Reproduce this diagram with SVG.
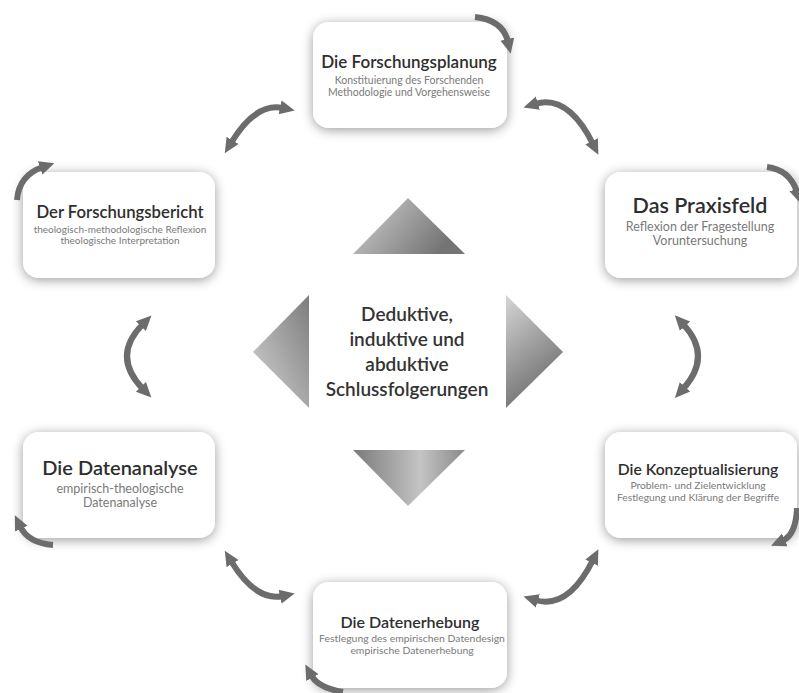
<svg xmlns="http://www.w3.org/2000/svg" width="799" height="693" viewBox="0 0 799 693">
<defs>
<style>
.box{fill:#ffffff;filter:url(#sh)}
.t{font-family:Lato,"Open Sans","DejaVu Sans",sans-serif;text-anchor:middle;fill:#2e2e2e;font-weight:600}
.s{font-family:Lato,"Open Sans","DejaVu Sans",sans-serif;text-anchor:middle;fill:#7a7a7a}
.c{font-family:Lato,"Open Sans","DejaVu Sans",sans-serif;text-anchor:middle;fill:#333;font-weight:600;font-size:19px}
.arr{fill:none;stroke:#6c6c6c;stroke-width:6}
</style>
<filter id="sh" x="-20%" y="-20%" width="140%" height="140%">
<feGaussianBlur in="SourceAlpha" stdDeviation="6"/>
<feOffset dx="0" dy="2"/>
<feComponentTransfer><feFuncA type="linear" slope="0.4"/></feComponentTransfer>
<feMerge><feMergeNode/><feMergeNode in="SourceGraphic"/></feMerge>
</filter>
<marker id="ah" markerUnits="userSpaceOnUse" markerWidth="16" markerHeight="16" refX="3" refY="8" orient="auto-start-reverse" viewBox="0 0 16 16">
<path d="M0,1 L15,8 L0,15 z" fill="#6c6c6c"/>
</marker>
<linearGradient id="gTop" x1="0" y1="0" x2="1" y2="0.4"><stop offset="0" stop-color="#d2d2d2"/><stop offset="1" stop-color="#747474"/></linearGradient>
<linearGradient id="gBot" x1="0" y1="0" x2="1" y2="0"><stop offset="0" stop-color="#7a7a7a"/><stop offset="0.6" stop-color="#c4c4c4"/><stop offset="1" stop-color="#8a8a8a"/></linearGradient>
<linearGradient id="gL" x1="1" y1="0" x2="0" y2="1"><stop offset="0" stop-color="#7c7c7c"/><stop offset="1" stop-color="#d4d4d4"/></linearGradient>
<linearGradient id="gR" x1="0" y1="0" x2="0.4" y2="1"><stop offset="0" stop-color="#d6d6d6"/><stop offset="1" stop-color="#6e6e6e"/></linearGradient>
</defs>
<rect width="799" height="693" fill="#ffffff"/>

<g id="center">
<polygon points="408,198 465,254 353,254" fill="url(#gTop)"/>
<polygon points="353,450 465,450 408,506" fill="url(#gBot)"/>
<polygon points="253,352 309,295 309,408" fill="url(#gL)"/>
<polygon points="563,352 506,295 506,408" fill="url(#gR)"/>
<text class="c" x="407" y="321">Deduktive,</text>
<text class="c" x="407" y="346">induktive und</text>
<text class="c" x="407" y="371">abduktive</text>
<text class="c" x="407" y="396">Schlussfolgerungen</text>
</g>

<g id="n-forschungsplanung">
<rect class="box" x="313" y="22" width="194" height="106" rx="16"/>
<text class="t" x="409" y="68" font-size="17">Die Forschungsplanung</text>
<text class="s" x="409" y="84" font-size="10.5">Konstituierung des Forschenden</text>
<text class="s" x="409" y="96" font-size="10.5">Methodologie und Vorgehensweise</text>
</g>

<g id="n-praxisfeld">
<rect class="box" x="605" y="172" width="192" height="106" rx="16"/>
<text class="t" x="700" y="213" font-size="21.5">Das Praxisfeld</text>
<text class="s" x="700" y="231" font-size="12.5">Reflexion der Fragestellung</text>
<text class="s" x="700" y="245" font-size="12.5">Voruntersuchung</text>
</g>

<g id="n-forschungsbericht">
<rect class="box" x="23" y="172" width="192" height="106" rx="16"/>
<text class="t" x="120" y="218" font-size="16.7">Der Forschungsbericht</text>
<text class="s" x="120" y="233" font-size="10">theologisch-methodologische Reflexion</text>
<text class="s" x="120" y="244" font-size="10">theologische Interpretation</text>
</g>

<g id="n-konzeptualisierung">
<rect class="box" x="605" y="432" width="192" height="106" rx="16"/>
<text class="t" x="698" y="475" font-size="15.7">Die Konzeptualisierung</text>
<text class="s" x="698" y="489" font-size="10.3">Problem- und Zielentwicklung</text>
<text class="s" x="698" y="501" font-size="10.3">Festlegung und Klärung der Begriffe</text>
</g>

<g id="n-datenanalyse">
<rect class="box" x="23" y="432" width="192" height="106" rx="16"/>
<text class="t" x="120" y="475" font-size="20">Die Datenanalyse</text>
<text class="s" x="120" y="493" font-size="12.5">empirisch-theologische</text>
<text class="s" x="120" y="507" font-size="12.5">Datenanalyse</text>
</g>

<g id="n-datenerhebung">
<rect class="box" x="313" y="582" width="194" height="106" rx="16"/>
<text class="t" x="410" y="628" font-size="16">Die Datenerhebung</text>
<text class="s" x="412" y="642" font-size="10.4">Festlegung des empirischen Datendesign</text>
<text class="s" x="412" y="654" font-size="10.4">empirische Datenerhebung</text>
</g>

<g id="connectors">
<path class="arr" d="M231,143 Q256,102 283,108" marker-start="url(#ah)" marker-end="url(#ah)"/>
<path class="arr" d="M535,104 Q568,94 593,144" marker-start="url(#ah)" marker-end="url(#ah)"/>
<path class="arr" d="M143,324 Q111,356 143,389" marker-start="url(#ah)" marker-end="url(#ah)"/>
<path class="arr" d="M683,324 Q713,356 683,389" marker-start="url(#ah)" marker-end="url(#ah)"/>
<path class="arr" d="M231,561 Q256,602 283,596" marker-start="url(#ah)" marker-end="url(#ah)"/>
<path class="arr" d="M535,600 Q568,610 593,560" marker-start="url(#ah)" marker-end="url(#ah)"/>
<path class="arr" d="M475,17 Q503,20 508,42" marker-end="url(#ah)"/>
<path class="arr" d="M767,167 Q790,170 797,192" marker-end="url(#ah)"/>
<path class="arr" d="M797,508 Q796,535 782,541" marker-end="url(#ah)"/>
<path class="arr" d="M343,692 Q318,688 311,675" marker-end="url(#ah)"/>
<path class="arr" d="M53,545 Q28,543 20,526" marker-end="url(#ah)"/>
<path class="arr" d="M17,200 Q19,175 43,167" marker-end="url(#ah)"/>
</g>
</svg>
